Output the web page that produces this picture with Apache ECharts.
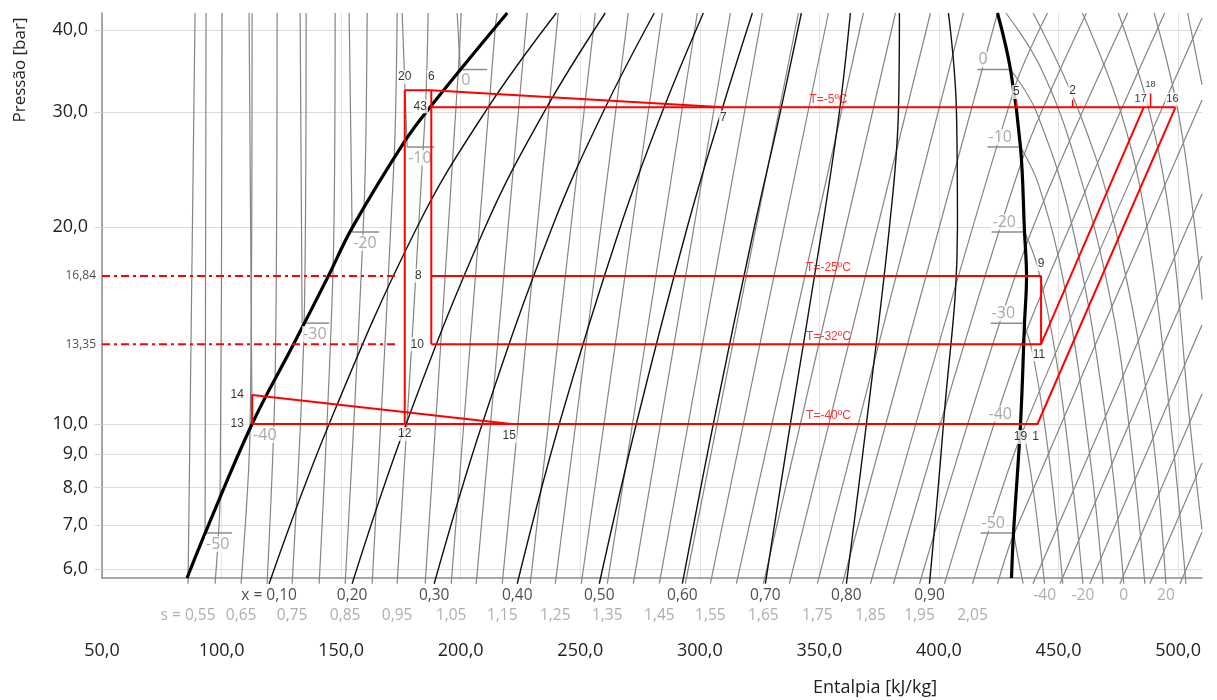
<!DOCTYPE html>
<html>
<head>
<meta charset="utf-8">
<script src="https://cdn.jsdelivr.net/npm/echarts@6/dist/echarts.min.js"></script>
<style>
html, body { margin: 0; padding: 0; background: #fff; }
#chart { width: 1217px; height: 700px; }
</style>
</head>
<body>
<div id="chart"></div>
<script>
// ---- data (enthalpy kJ/kg, pressure bar) ----
const hTicks = [50, 100, 150, 200, 250, 300, 350, 400, 450, 500]
const pTicks = [6, 7, 8, 9, 10, 20, 30, 40]

const satLiquid = [[85.56,5.816],[94.35,6.98],[112.76,10.0],[129.92,13.2],[144.56,16.8],[154.6,19.94],[176.36,26.97],[187.24,30.51],[219.46,42.47]]
const satVapor = [[424.48,42.47],[429.92,34.81],[434.1,26.5],[435.78,19.65],[436.62,16.8],[435.78,14.26],[434.1,10.0],[431.18,6.815],[430.34,5.816]]

// quality lines x = 0.1 .. 0.9, enthalpy read at the pressures in qualityP
const qualityP = [5.70, 10, 20, 30, 42.47]
const qualityText = ['x = 0,10', '0,20', '0,30', '0,40', '0,50', '0,60', '0,70', '0,80', '0,90']
const qualityH = [
    [119.87, 144.98, 181.8, 210.25, 239.96],
    [154.6, 177.19, 210.25, 234.94, 260.46],
    [188.91, 208.99, 238.29, 259.62, 280.96],
    [223.64, 241.21, 266.74, 284.31, 301.47],
    [257.95, 273.43, 294.77, 308.99, 321.97],
    [292.68, 305.64, 322.81, 333.68, 342.47],
    [327.41, 337.86, 351.26, 358.37, 362.97],
    [361.3, 369.66, 379.29, 383.05, 383.47],
    [396.03, 401.88, 407.74, 407.32, 403.97]
]

// isentropes s = 0.55 .. 2.40 (kJ/kgK)
const isentropeS = [0.55,0.60,0.65,0.70,0.75,0.80,0.85,0.90,0.95,1.00,1.05,1.10,1.15,1.20,1.25,1.30,1.35,1.40,1.45,1.50,1.55,1.60,1.65,1.70,1.75,1.80,1.85,1.90,1.95,2.00,2.05,2.10,2.15,2.20,2.25,2.30,2.35,2.40]
const isentropeLines = [
    [[85.98,5.70],[88.91,42.47]],
    [[97.28,5.70],[99.37,7.707],[100.21,42.47]],
    [[108.16,5.70],[111.92,9.826],[112.76,42.47]],
    [[119.04,5.70],[122.39,11.68],[123.22,42.47]],
    [[129.5,5.70],[134.52,14.21],[135.36,42.47]],
    [[140.8,5.70],[146.65,17.43],[147.49,42.47]],
    [[151.67,5.70],[159.62,21.54],[160.88,42.47]],
    [[162.97,5.70],[172.18,25.5],[173.43,42.47]],
    [[173.43,5.70],[185.15,29.77],[186.4,42.47]],
    [[185.15,5.70],[198.95,34.38],[200.21,42.47]],
    [[196.02,5.70],[214.44,40.29],[215.27,42.47]],
    [[206.49,5.70],[227.83,42.47]],
    [[217.36,5.70],[240.79,42.47]],
    [[229.08,5.70],[256.28,42.47]],
    [[239.54,5.70],[270.08,42.47]],
    [[250.42,5.70],[284.31,42.47]],
    [[261.3,5.70],[298.96,42.47]],
    [[272.18,5.70],[312.77,42.47]],
    [[283.06,5.70],[326.16,42.47]],
    [[293.94,5.70],[341.23,42.47]],
    [[304.4,5.70],[353.78,42.47]],
    [[315.28,5.70],[368.42,42.47]],
    [[326.58,5.70],[381.8,42.47]],
    [[337.46,5.70],[396.45,42.47]],
    [[349.17,5.70],[410.26,42.47]],
    [[359.63,5.70],[424.48,42.47]],
    [[371.35,5.70],[431.6,32.61],[445.4,42.47]],
    [[380.97,5.70],[434.5,25.14],[461.7,42.47]],
    [[391.85,5.70],[436.2,18.64],[478.9,42.47]],
    [[402.31,5.70],[435.78,13.63],[494.4,42.47]],
    [[414.03,5.70],[434.1,9.553],[510,41.74]],
    [[424.48,5.70],[431.18,6.768],[510,31.26]],
    [[439.3,5.70],[510,22.47]],
    [[450.6,5.70],[510,18.06]],
    [[463.1,5.70],[510,14.17]],
    [[475.7,5.70],[510,11.11]],
    [[488.2,5.70],[510,8.717]],
    [[500.8,5.70],[510,6.84]]
]
const sLabels = [0.55,0.65,0.75,0.85,0.95,1.05,1.15,1.25,1.35,1.45,1.55,1.65,1.75,1.85,1.95,2.05]

// isotherms (°C)
const isoT = [-50, -40, -30, -20, -10, 0]
const isoPsat = [6.815, 10.0, 14.26, 19.65, 26.5, 34.81]
const isoHliq = [93.1, 112.76, 133.68, 154.6, 177.61, 199.79]
const isoHvap = [431.2, 434.1, 435.4, 435.8, 434.1, 429.9]
const liquidIsotherms = [
    [[93.1,6.815],[93.51,42.47]],
    [[112.76,10.0],[111.5,42.47]],
    [[133.68,14.26],[132.85,42.47]],
    [[154.6,19.65],[153.35,42.47]],
    [[177.61,26.5],[175.52,42.47]],
    [[199.79,34.81],[198.53,42.47]]
]
const vaporIsotherms = [
    [[431.2,6.815],[432.9,6.3],[435.2,5.70]],
    [[434.1,10.0],[436.4,9.3],[439.5,7.9],[442.6,6.4],[444.2,5.70]],
    [[435.4,14.26],[439.1,12.86],[444.2,9.96],[449.3,7.04],[451.8,5.70]],
    [[435.8,19.65],[441.3,17.35],[449.0,12.6],[456.3,7.83],[460.2,5.70]],
    [[434.1,26.5],[441.9,23.07],[452.9,15.95],[463.3,8.82],[468.6,5.70]],
    [[429.9,34.81],[440.7,30.0],[455.8,20.0],[470.1,10.0],[477.3,5.70]],
    [[428.0,42.47],[442.6,35.0],[457.5,25.0],[472.5,15.0],[479.4,10.0],[486.1,5.70]],
    [[439.4,42.47],[458.6,30.0],[473.6,20.0],[488.7,10.0],[494.9,5.70]],
    [[460.0,42.47],[476.0,30.0],[487.0,20.0],[497.0,10.0],[503.3,5.70]],
    [[475.0,42.47],[488.0,30.0],[497.0,20.0],[505.0,10.0],[510,6.9]],
    [[490.0,42.47],[500.0,30.0],[507.0,20.0],[510,15.5]],
    [[504.0,42.47],[510,33.0]]
]
const vaporTempText = ['-40', '-20', '0', '20']
const vaporTempH = [444.2, 460.2, 477.3, 494.9]

// refrigeration cycle
const cycle = {
    '20': [176.6, 32.37], '6': [187.7, 32.37], '3': [187.7, 30.47], '7': [309.8, 30.47],
    '16': [498.9, 30.47], '17': [485.6, 30.47], '8': [187.7, 16.84], '9': [442.7, 16.84],
    '10': [187.7, 13.24], '11': [442.7, 13.24], '12': [176.6, 10.0], '13': [112.8, 10.0],
    '14': [112.8, 11.07], '15': [221.1, 10.0], '19': [434.1, 10.0], '1': [441.2, 10.0]
}
const cyclePaths = [
    ['20', '6', '7'], ['3', '16'], ['20', '12'], ['6', '10'], ['8', '9', '11'],
    ['10', '11', '17'], ['13', '1', '16'], ['13', '14', '15']
]
const cycleMarks = [
    [[432.4, 30.47], [432.4, 31.26]],
    [[455.9, 30.47], [455.9, 31.3]],
    [[488.5, 30.47], [488.5, 32.0]]
]
const levelText = ['16,84', '13,35']
const levelP = [16.84, 13.24]
const levelEndH = 173.4
const levelTempText = ['T=-5ºC', 'T=-25ºC', 'T=-32ºC', 'T=-40ºC']
const levelTempP = [30.47, 16.84, 13.24, 10.0]
const levelTempH = 353.8

// ---- chart ----
const GREY = '#858585'
const fmt = (v, d) => v.toFixed(d).replace('.', ',')

function lineSeries(points, color, width, z, extra) {
    return Object.assign({
        type: 'line', data: points, symbol: 'none', clip: false, silent: true,
        animation: false, z: z, lineStyle: { color: color, width: width }
    }, extra || {})
}
function labelSeries(items, style, z) {
    return {
        type: 'scatter', symbolSize: 0, clip: false, silent: true, animation: false, z: z || 10,
        data: items,
        label: Object.assign({ show: true, formatter: p => p.data.txt }, style)
    }
}

const series = []
isentropeLines.forEach(l => series.push(lineSeries(l, GREY, 1.2, 2, { smooth: 0.3 })))
liquidIsotherms.forEach(l => series.push(lineSeries(l, GREY, 1.2, 2)))
vaporIsotherms.forEach(l => series.push(lineSeries(l, GREY, 1.2, 2, { smooth: 0.4 })))
qualityH.forEach(row => series.push(lineSeries(row.map((h, i) => [h, qualityP[i]]), '#111', 1.4, 3, { smooth: 0.4 })))
series.push(lineSeries(satLiquid, '#000', 3.2, 4, { smooth: 0.4 }))
series.push(lineSeries(satVapor, '#000', 3.2, 4, { smooth: 0.4 }))

// isotherm crossing marks at the saturation lines
isoT.forEach((t, i) => {
    series.push(lineSeries([[isoHliq[i], isoPsat[i]], [isoHliq[i] + 11.3, isoPsat[i]]], '#8c8c8c', 1.5, 3))
    series.push(lineSeries([[isoHvap[i] - 13.8, isoPsat[i]], [isoHvap[i], isoPsat[i]]], '#8c8c8c', 1.5, 3))
})

// cycle
cyclePaths.forEach(path => series.push(lineSeries(path.map(k => cycle[k]), '#ff0000', 2, 6)))
cycleMarks.forEach(m => series.push(lineSeries(m, '#ff0000', 1.5, 6)))
levelP.forEach(p => series.push(lineSeries([[50, p], [levelEndH, p]], '#ff0000', 2, 6, {
    lineStyle: { color: '#ff0000', width: 2, type: [8, 4, 3, 4] }
})))

// labels
const pointOffsets = {
    '20': [0, -13], '6': [0, -13], '3': [-11, -1], '7': [0, 10], '8': [-13, 0], '9': [0, -12],
    '10': [-14, 0], '11': [-2, 10], '12': [0, 10], '13': [-15, 0], '14': [-15, 0], '15': [-2, 12],
    '19': [0, 13], '1': [-2, 13]
}
const pointItems = Object.keys(pointOffsets).map(k => ({
    value: cycle[k], txt: k === '3' ? '43' : k, label: { offset: pointOffsets[k] }
}))
pointItems.push({ value: cycleMarks[0][1], txt: '5', label: { offset: [0, -8] } })
pointItems.push({ value: cycleMarks[1][1], txt: '2', label: { offset: [0, -9] } })
pointItems.push({ value: cycle['17'], txt: '17', label: { offset: [-3, -8], fontSize: 11 } })
pointItems.push({ value: cycle['16'], txt: '16', label: { offset: [-3, -8], fontSize: 11 } })
pointItems.push({ value: cycleMarks[2][1], txt: '18', label: { offset: [0, -9], fontSize: 9 } })
series.push(labelSeries(pointItems, {
    position: 'inside', fontFamily: 'Liberation Sans', fontSize: 12, color: '#000',
    backgroundColor: '#fff', padding: [1, 1]
}))

series.push(labelSeries(levelTempText.map((t, i) => ({ value: [levelTempH, levelTempP[i]], txt: t })), {
    position: 'inside', offset: [0, -8], fontFamily: 'Liberation Sans', fontSize: 12, color: '#ff0000'
}))

series.push(labelSeries(levelP.map((p, i) => ({ value: [50, p], txt: levelText[i] })), {
    position: [-6, 0], align: 'right', verticalAlign: 'middle', fontFamily: 'Open Sans', fontSize: 12, color: '#222'
}))

// isotherm labels sit under the red cycle lines
const isoLiqItems = isoT.map((t, i) => ({ value: [isoHliq[i], isoPsat[i]], txt: String(t) }))
series.push(labelSeries(isoLiqItems, {
    position: [0, 3], align: 'left', verticalAlign: 'top', fontFamily: 'Open Sans', fontSize: 16, color: '#959595',
    backgroundColor: '#fff', padding: [0, 1]
}, 5))
const isoVapItems = isoT.map((t, i) => ({ value: [isoHvap[i] - 13.8, isoPsat[i]], txt: String(t) }))
series.push(labelSeries(isoVapItems, {
    position: [0, -2], align: 'left', verticalAlign: 'bottom', fontFamily: 'Open Sans', fontSize: 16, color: '#959595',
    backgroundColor: '#fff', padding: [0, 1]
}, 5))

const bottomX = qualityH.map((row, i) => ({ value: [row[0], 5.816], txt: qualityText[i] }))
series.push(labelSeries(bottomX, {
    position: [0, 10], align: 'center', verticalAlign: 'top', fontFamily: 'Open Sans', fontSize: 15.5, color: '#222'
}))
const bottomS = sLabels.map((s, i) => {
    const k = isentropeS.findIndex(v => Math.abs(v - s) < 1e-6)
    return { value: [isentropeLines[k][0][0], 5.816], txt: (i === 0 ? 's = ' : '') + fmt(s, 2) }
})
series.push(labelSeries(bottomS, {
    position: [0, 30], align: 'center', verticalAlign: 'top', fontFamily: 'Open Sans', fontSize: 15.5, color: '#9a9a9a'
}))
series.push(labelSeries(vaporTempText.map((t, i) => ({ value: [vaporTempH[i], 5.816], txt: t })), {
    position: [0, 10], align: 'center', verticalAlign: 'top', fontFamily: 'Open Sans', fontSize: 15.5, color: '#9a9a9a'
}))

const chart = echarts.init(document.getElementById('chart'), null, { renderer: 'canvas' })
chart.setOption({
    animation: false,
    grid: { left: 102, right: 15, top: 13, bottom: 122 },
    xAxis: {
        type: 'value', min: 50, max: 510,
        axisLine: { show: true, onZero: false, lineStyle: { color: '#8c8c8c', width: 1.5 } },
        axisTick: { show: false, customValues: hTicks },
        splitLine: { show: true, lineStyle: { color: '#e4e4e4', width: 1 } },
        axisLabel: {
            customValues: hTicks, margin: 64, fontFamily: 'Open Sans', fontSize: 18, color: '#222',
            formatter: v => fmt(v, 1)
        }
    },
    yAxis: {
        type: 'log', logBase: 10, min: 5.816, max: 42.47,
        axisLine: { show: true, lineStyle: { color: '#8c8c8c', width: 1.5 } },
        axisTick: { show: true, length: 7, lineStyle: { color: '#d4d4d4' }, customValues: pTicks },
        splitLine: { show: true, lineStyle: { color: '#dcdcdc', width: 1.2 } },
        axisLabel: {
            customValues: pTicks, margin: 14, fontFamily: 'Open Sans', fontSize: 18, color: '#222',
            formatter: v => fmt(v, 1)
        }
    },
    graphic: [
        {
            type: 'text', x: 20, y: 70, rotation: Math.PI / 2,
            style: { text: 'Pressão [bar]', font: '17px "Open Sans"', fill: '#222', align: 'center', verticalAlign: 'middle' }
        },
        {
            type: 'text', x: 875, y: 688,
            style: { text: 'Entalpia [kJ/kg]', font: '18px "Open Sans"', fill: '#222', align: 'center', verticalAlign: 'middle' }
        }
    ],
    series: series
})
</script>
</body>
</html>
